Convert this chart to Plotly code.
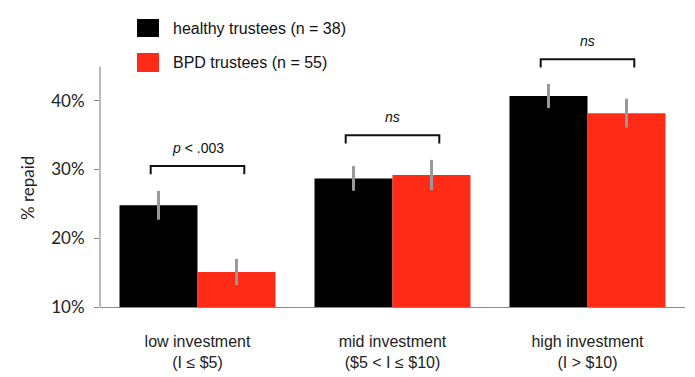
import plotly.graph_objects as go

categories = ["low investment<br>(I ≤ $5)", "mid investment<br>($5 < I ≤ $10)", "high investment<br>(I > $10)"]
healthy_vals = [24.8, 28.7, 40.7]
healthy_err = [2.1, 1.8, 1.75]
bpd_vals = [15.1, 29.2, 38.2]
bpd_err = [1.9, 2.2, 2.1]
sig_labels = ["<i>p</i> < .003", "<i>ns</i>", "<i>ns</i>"]
series_names = ["healthy trustees (n = 38)", "BPD trustees (n = 55)"]
ytick_vals = [10, 20, 30, 40]

BLACK = "#000000"
RED = "#FF2B16"
GRAY_ERR = "#999999"
AXIS_GRAY = "#8a8a8a"

xs = list(range(len(categories)))

fig = go.Figure()
fig.add_trace(go.Bar(
    x=xs, y=healthy_vals, name=series_names[0], marker=dict(color=BLACK, line=dict(width=0)),
    error_y=dict(type="data", array=healthy_err, color=GRAY_ERR, thickness=3, width=0),
    showlegend=False,
))
fig.add_trace(go.Bar(
    x=xs, y=bpd_vals, name=series_names[1], marker=dict(color=RED, line=dict(width=0)),
    error_y=dict(type="data", array=bpd_err, color=GRAY_ERR, thickness=3, width=0),
    showlegend=False,
))

shapes = []
annotations = []
for i in xs:
    top_err = max(healthy_vals[i] + healthy_err[i], bpd_vals[i] + bpd_err[i])
    leg_y = top_err + 2.4
    top_y = leg_y + 1.2
    x0, x1 = i - 0.24, i + 0.24
    shapes.append(dict(
        type="path", xref="x", yref="y",
        path=f"M {x0} {leg_y} L {x0} {top_y} L {x1} {top_y} L {x1} {leg_y}",
        line=dict(color="#111111", width=2),
    ))
    annotations.append(dict(
        x=i, y=top_y + 2.7, xref="x", yref="y", text=sig_labels[i], showarrow=False,
        font=dict(family="Liberation Sans, Arial", size=14, color="#111111"),
        xanchor="center", yanchor="middle",
    ))

# manual y axis line from 10% to 45%
shapes.append(dict(type="line", xref="paper", yref="paper", x0=0, x1=0, y0=0, y1=35 / 40,
                   line=dict(color=AXIS_GRAY, width=1.2)))

# legend
leg_colors = [BLACK, RED]
leg_boxes = [(0.9818, 1.0473), (0.8545, 0.9236)]
leg_text_y = [1.0145, 0.8909]
for name, col, (y0, y1), ty in zip(series_names, leg_colors, leg_boxes, leg_text_y):
    shapes.append(dict(type="rect", xref="paper", yref="paper", x0=0.0632, x1=0.1009, y0=y0, y1=y1,
                       fillcolor=col, line=dict(width=0)))
    annotations.append(dict(x=0.1214, y=ty, xref="paper", yref="paper", text=name, showarrow=False,
                            xanchor="left", yanchor="middle",
                            font=dict(family="Liberation Sans, Arial", size=16, color="#111111")))

annotations.append(dict(x=-0.1248, y=0.4327, xref="paper", yref="paper", text="% repaid",
                        showarrow=False, textangle=-90, xanchor="center", yanchor="middle",
                        font=dict(family="Lato, sans-serif", size=17, color="#222222")))

fig.update_layout(
    width=687, height=369,
    margin=dict(l=92, r=10, t=24, b=70),
    plot_bgcolor="white", paper_bgcolor="white",
    barmode="group", bargap=0.2, bargroupgap=0,
    shapes=shapes, annotations=annotations,
    xaxis=dict(range=[-0.5, 2.5], tickvals=xs, ticktext=categories, showline=True,
               linecolor=AXIS_GRAY, linewidth=1.2, ticks="", showgrid=False, zeroline=False,
               ticklabelstandoff=20, automargin=False,
               tickfont=dict(family="Liberation Sans, Arial", size=16, color="#222222")),
    yaxis=dict(range=[10, 50], tickvals=ytick_vals, ticktext=[f"{v}%" for v in ytick_vals],
               showline=False, ticks="outside", ticklen=5, tickcolor=AXIS_GRAY, tickwidth=1.2,
               showgrid=False, zeroline=False, ticklabelstandoff=6, automargin=False,
               tickfont=dict(family="Lato, sans-serif", size=17, color="#222222")),
)

fig.write_html("out.html")
